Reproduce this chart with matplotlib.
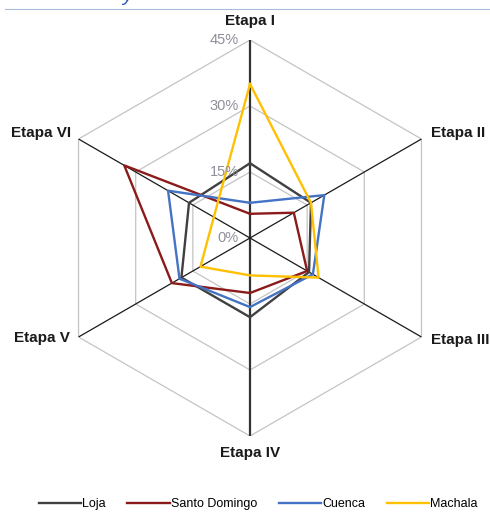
import numpy as np
import matplotlib
matplotlib.use("Agg")
import matplotlib.pyplot as plt
from matplotlib.lines import Line2D

plt.rcParams['font.family'] = ['Liberation Sans', 'DejaVu Sans']

# datos por etapa (%)
etapas = ['Etapa I', 'Etapa II', 'Etapa III', 'Etapa IV', 'Etapa V', 'Etapa VI']
loja = [17, 16, 15.5, 18, 18, 16]
santo_domingo = [5.5, 11.5, 15, 12.5, 20.5, 33]
cuenca = [8, 19.5, 16.5, 15.7, 18.5, 21.5]
machala = [35, 16, 18, 8.5, 13, 9.5]
niveles = [0, 15, 30, 45]
niveles_txt = ['0%', '15%', '30%', '45%']

series = [('Loja', loja, '#404040'),
          ('Santo Domingo', santo_domingo, '#8B1A1A'),
          ('Cuenca', cuenca, '#4472C4'),
          ('Machala', machala, '#FFC000')]

n = len(etapas)
ang = np.linspace(0, 2 * np.pi, n, endpoint=False)
ang_c = np.append(ang, ang[0])

fig = plt.figure(figsize=(4.9, 5.12), dpi=100)
ax = fig.add_axes([52 / 490, 76 / 512, 396 / 490, 396 / 512], projection='polar')
ax.set_theta_offset(np.pi / 2)
ax.set_theta_direction(-1)
ax.set_ylim(0, 45)
ax.grid(False)
ax.spines['polar'].set_visible(False)
ax.set_xticks([])
ax.set_yticks([])
ax.patch.set_visible(False)

# hexagonos de la reticula
for r in niveles[1:]:
    ax.plot(ang_c, [r] * (n + 1), color='#c4c4c4', lw=0.9, zorder=1)

# ejes radiales
for i, a in enumerate(ang):
    ax.plot([a, a], [0, 45], color='#1a1a1a' if i % 3 else '#333333',
            lw=0.9 if i % 3 else 1.6, zorder=2)

for nombre, vals, col in series:
    ax.plot(ang_c, vals + vals[:1], color=col, lw=1.7, zorder=3, label=nombre)

# etiquetas de los niveles
for r, t in zip(niveles, niveles_txt):
    ax.annotate(t, xy=(0, r), xytext=(-8, 0), textcoords='offset points',
                ha='right', va='center', color='#8f8f9a', fontsize=10.5)

# nombres de las etapas
offs = [(0, 14), (7, 4.5), (7, -2), (0, -12), (-6, -1), (-5, 4.5)]
has = ['center', 'left', 'left', 'center', 'right', 'right']
for a, et, (dx, dy), h in zip(ang, etapas, offs, has):
    ax.annotate(et, xy=(a, 45), xytext=(dx, dy), textcoords='offset points',
                ha=h, va='center', fontsize=11, fontweight='bold',
                color='#1a1a1a', annotation_clip=False)

handles = [Line2D([], [], color=c, lw=1.7) for _, _, c in series]
fig.legend(handles, [s[0] for s in series], loc='lower center',
           bbox_to_anchor=(0.527, -0.018), ncol=4, frameon=False, fontsize=9,
           handlelength=3.4, handletextpad=0.1, columnspacing=1.7)

# linea superior
fig.add_artist(Line2D([5 / 490, 1], [1 - 9 / 512] * 2, color='#a9bbdd', lw=0.8))
fig.text(122 / 490, 1 - 1 / 512, 'y', fontsize=15, style='italic',
         color='#2f5fb0', va='baseline')

fig.savefig('out.png', dpi=100)
